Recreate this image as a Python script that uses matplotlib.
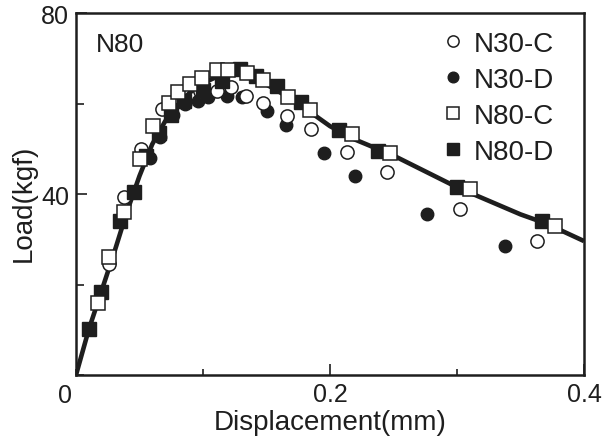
import numpy as np
import matplotlib.pyplot as plt

plt.rcParams['font.family'] = ['Liberation Sans', 'DejaVu Sans']

ink = '#1e1e1e'

# N30-C (open circles)
n30c_x = [0.026, 0.038, 0.051, 0.068, 0.080, 0.098, 0.111, 0.122, 0.134, 0.147,
          0.166, 0.185, 0.213, 0.245, 0.302, 0.363]
n30c_y = [24.5, 39.3, 50.0, 58.8, 61.5, 62.8, 62.8, 63.6, 61.6, 60.1,
          57.2, 54.4, 49.3, 44.9, 36.7, 29.6]

# N30-D (filled circles)
n30d_x = [0.058, 0.066, 0.076, 0.086, 0.096, 0.104, 0.119, 0.131, 0.150, 0.165,
          0.195, 0.220, 0.276, 0.338]
n30d_y = [48.0, 52.5, 57.5, 59.8, 60.6, 61.4, 61.7, 61.4, 58.3, 55.2,
          49.0, 44.0, 35.6, 28.5]

# N80-C (open squares)
n80c_x = [0.017, 0.026, 0.038, 0.050, 0.061, 0.073, 0.080, 0.090, 0.099, 0.111,
          0.120, 0.135, 0.147, 0.167, 0.184, 0.217, 0.247, 0.310, 0.377]
n80c_y = [16.0, 26.0, 36.0, 47.7, 55.0, 60.1, 62.5, 64.3, 65.6, 67.4,
          67.4, 66.7, 65.2, 61.4, 58.6, 53.3, 49.0, 41.1, 33.0]

# N80-D (filled squares)
n80d_x = [0.010, 0.020, 0.035, 0.046, 0.055, 0.065, 0.075, 0.085, 0.100, 0.115,
          0.129, 0.142, 0.158, 0.177, 0.207, 0.238, 0.300, 0.367]
n80d_y = [10.2, 18.3, 34.0, 40.5, 48.5, 53.5, 57.5, 60.5, 63.0, 65.0,
          67.6, 66.0, 63.8, 60.3, 54.2, 49.5, 41.5, 34.0]

# fitted curve
fit_x = [0.0, 0.010, 0.020, 0.030, 0.040, 0.050, 0.060, 0.070, 0.080, 0.090,
         0.100, 0.110, 0.120, 0.130, 0.140, 0.150, 0.160, 0.170, 0.180, 0.200,
         0.220, 0.250, 0.300, 0.350, 0.370, 0.400]
fit_y = [0.0, 10.0, 18.5, 27.0, 36.0, 44.0, 51.0, 56.0, 59.8, 62.5,
         64.5, 65.8, 66.5, 66.5, 65.5, 64.2, 62.6, 60.8, 59.0, 55.0,
         52.0, 48.5, 41.5, 35.5, 33.5, 29.6]

fig = plt.figure(figsize=(6.09, 4.39), dpi=100)
ax = fig.add_axes([0.1248, 0.1435, 0.959 - 0.1248, 0.968 - 0.1435])

ax.plot(fit_x, fit_y, color=ink, lw=3.3, zorder=2, solid_capstyle='butt')
ax.plot(n30d_x, n30d_y, 'o', ms=9, mfc=ink, mec=ink, mew=1, ls='none',
        zorder=3, label='N30-D')
ax.plot(n30c_x, n30c_y, 'o', ms=9.5, mfc='white', mec=ink, mew=1.1, ls='none',
        zorder=4, label='N30-C')
ax.plot(n80d_x, n80d_y, 's', ms=9.5, mfc=ink, mec=ink, mew=1, ls='none',
        zorder=5, label='N80-D')
ax.plot(n80c_x, n80c_y, 's', ms=10, mfc='white', mec=ink, mew=1.1, ls='none',
        zorder=6, label='N80-C')

xlabels = ['', '', '0.2', '', '0.4']
ylabels = ['', '', '40', '', '80']
ax.set_xlim(0, 0.4)
ax.set_ylim(0, 80)
ax.set_xticks([0, 0.1, 0.2, 0.3, 0.4])
ax.set_xticklabels(xlabels)
ax.set_yticks([0, 20, 40, 60, 80])
ax.set_yticklabels(ylabels)
ax.tick_params(direction='in', length=8, width=1.2, colors=ink,
               labelsize=18, pad=5, top=False, right=False)
for t, lab in zip(ax.xaxis.get_major_ticks(), xlabels):
    if lab == '':
        t.tick1line.set_markersize(4)
for t, lab in zip(ax.yaxis.get_major_ticks(), ylabels):
    if lab == '':
        t.tick1line.set_markersize(6)
ax.annotate('0', xy=(0, 0), xycoords='axes fraction', xytext=(-8, -6),
            textcoords='offset points', ha='center', va='top',
            fontsize=18, color=ink)

for s in ax.spines.values():
    s.set_linewidth(1.8)
    s.set_color(ink)

ax.set_xlabel('Displacement(mm)', fontsize=20, color=ink, labelpad=2)
ax.set_ylabel('Load(kgf)', fontsize=20, color=ink)
ax.yaxis.set_label_coords(-0.077, 0.478)

ax.text(0.04, 0.915, 'N80', transform=ax.transAxes, fontsize=19,
        color=ink, va='center')

h, l = ax.get_legend_handles_labels()
order = [l.index(n) for n in ['N30-C', 'N30-D', 'N80-C', 'N80-D']]
leg = ax.legend([h[i] for i in order], [l[i] for i in order],
                loc='upper right', frameon=False, fontsize=20,
                handlelength=0.6, handletextpad=0.45, labelspacing=0.36,
                markerscale=0.85, borderaxespad=0.1,
                bbox_to_anchor=(0.968, 0.99))
for t in leg.get_texts():
    t.set_color(ink)

fig.savefig('out.png', dpi=100)
